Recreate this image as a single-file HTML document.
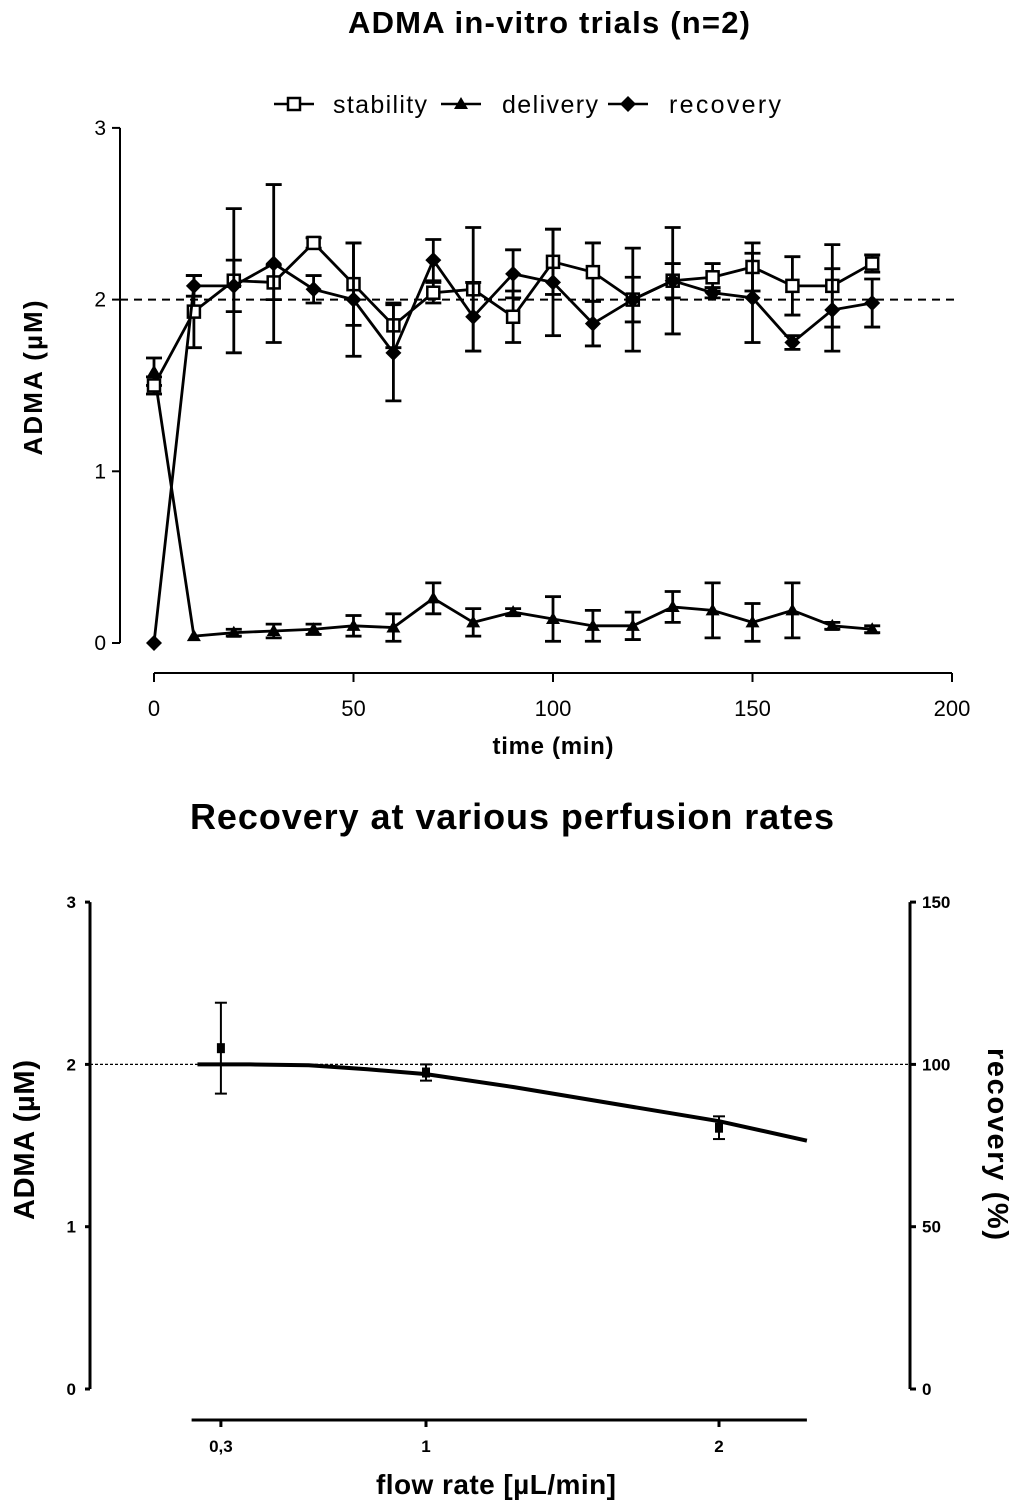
<!DOCTYPE html>
<html><head><meta charset="utf-8"><style>
body{margin:0;background:#fff;}
svg{display:block;font-family:"Liberation Sans",Arial,sans-serif;}
</style></head><body>
<svg id="c" width="1024" height="1512" viewBox="0 0 1024 1512"></svg>
<script>
// ---- top chart data ----
const times=[0,10,20,30,40,50,60,70,80,90,100,110,120,130,140,150,160,170,180];
const stability=[1.50,1.93,2.11,2.10,2.33,2.09,1.85,2.04,2.06,1.90,2.22,2.16,2.00,2.11,2.13,2.19,2.08,2.08,2.21];
const stabilityErr=[0.05,0.21,0.42,0.10,0.03,0.24,0.13,0.06,0.36,0.15,0.19,0.17,0.30,0.31,0.08,0.14,0.17,0.24,0.05];
const delivery=[1.58,0.04,0.06,0.07,0.08,0.10,0.09,0.26,0.12,0.18,0.14,0.10,0.10,0.21,0.19,0.12,0.19,0.10,0.08];
const deliveryErr=[0.08,0.01,0.02,0.04,0.03,0.06,0.08,0.09,0.08,0.02,0.13,0.09,0.08,0.09,0.16,0.11,0.16,0.02,0.02];
const recovery=[0.0,2.08,2.08,2.21,2.06,2.00,1.69,2.23,1.90,2.15,2.10,1.86,2.00,2.11,2.04,2.01,1.75,1.94,1.98];
const recoveryErr=[0.0,0.06,0.15,0.46,0.08,0.33,0.28,0.12,0.2,0.14,0.31,0.13,0.13,0.1,0.03,0.26,0.04,0.24,0.14];
const xTicks=[0,50,100,150,200];
const yTicks=[0,1,2,3];
// ---- bottom chart data ----
const flowPts=[0.3,1,2];
const flowVals=[2.10,1.95,1.61];
const flowErr=[0.28,0.05,0.07];
const fitX=[0.22,0.4,0.6,0.8,1.0,1.3,1.6,2.0,2.3];
const fitY=[2.0,2.0,1.995,1.97,1.94,1.86,1.77,1.65,1.53];
const flowTicks=[0.3,1,2];
const flowTickLabels=["0,3","1","2"];
const leftTicks=[0,1,2,3];
const rightTicks=[0,50,100,150];

const NS="http://www.w3.org/2000/svg";
const svg=document.getElementById('c');
function el(tag,attrs,parent){const e=document.createElementNS(NS,tag);for(const k in attrs)e.setAttribute(k,attrs[k]);(parent||svg).appendChild(e);return e;}
function txt(s,attrs,parent){const t=el('text',attrs,parent);t.textContent=s;return t;}

const tx=v=>154+v*3.99;
const ty=v=>643-v*171.7;

let g=el('g',{});


let t=txt('ADMA in-vitro trials (n=2)',{x:549,y:33,'text-anchor':'middle','font-size':31,'font-weight':'bold','textLength':402},g);

let a=el('line',{x1:120,y1:ty(3),x2:120,y2:ty(0),stroke:'#000','stroke-width':2},g);

yTicks.forEach(v=>{el('line',{x1:112,y1:ty(v),x2:120,y2:ty(v),stroke:'#000','stroke-width':2},g);
 let l=txt(String(v),{x:106,y:ty(v)+7,'text-anchor':'end','font-size':21},g);
 });
a=el('line',{x1:tx(0),y1:673,x2:tx(200),y2:673,stroke:'#000','stroke-width':2},g);

xTicks.forEach(v=>{el('line',{x1:tx(v),y1:673,x2:tx(v),y2:682,stroke:'#000','stroke-width':2},g);
 let l=txt(String(v),{x:tx(v),y:716,'text-anchor':'middle','font-size':22},g);
 });
t=txt('time (min)',{x:553,y:754,'text-anchor':'middle','font-size':24,'font-weight':'bold','textLength':121},g);

t=txt('ADMA (µM)',{x:0,y:0,'text-anchor':'middle','font-size':26,'font-weight':'bold','textLength':155,transform:'translate(42,378) rotate(-90)'},g);

let d=el('line',{x1:120,y1:ty(2),x2:958,y2:ty(2),stroke:'#000','stroke-width':2,'stroke-dasharray':'8,6'},g);


function marker(kind,x,y,parent){
 if(kind==='sq')return el('rect',{x:x-6,y:y-6,width:12,height:12,fill:'#fff',stroke:'#000','stroke-width':2.5},parent);
 if(kind==='tri')return el('polygon',{points:`${x},${y-7} ${x+7},${y+5} ${x-7},${y+5}`,fill:'#000'},parent);
 return el('polygon',{points:`${x},${y-8} ${x+8},${y} ${x},${y+8} ${x-8},${y}`,fill:'#000'},parent);
}
function series(name,vals,errs,kind){
 const sg=el('g',{},g);
 
 
 const pts=times.map((tm,i)=>tx(tm)+','+ty(vals[i])).join(' ');
 el('polyline',{points:pts,fill:'none',stroke:'#000','stroke-width':2.8},sg);
 times.forEach((tm,i)=>{const x=tx(tm);
  if(errs[i]>0.015){const y1=ty(vals[i]+errs[i]),y2=ty(vals[i]-errs[i]);
   el('line',{x1:x,y1:y1,x2:x,y2:y2,stroke:'#000','stroke-width':2.8},sg);
   el('line',{x1:x-8,y1:y1,x2:x+8,y2:y1,stroke:'#000','stroke-width':2.8},sg);
   el('line',{x1:x-8,y1:y2,x2:x+8,y2:y2,stroke:'#000','stroke-width':2.8},sg);}
  const m=marker(kind,x,ty(vals[i]),sg);
  
  
 });
}
series('delivery',delivery,deliveryErr,'tri');
series('stability',stability,stabilityErr,'sq');
series('recovery',recovery,recoveryErr,'dia');
const lg=el('g',{},g);


[['stability','sq',274,333,94],['delivery','tri',441,502,96],['recovery','dia',608,669,112]].forEach(([n,k,x0,xt,w])=>{
 const e=el('g',{},lg);
 
 
 el('line',{x1:x0,y1:104,x2:x0+40,y2:104,stroke:'#000','stroke-width':2.5},e);
 marker(k,x0+20,104,e);
 txt(n,{x:xt,y:113,'font-size':25,'textLength':w},e);
});

const bx=v=>426+(v-1)*293;
const by=v=>1389-v*162.3;
g=el('g',{});


t=txt('Recovery at various perfusion rates',{x:512,y:829,'text-anchor':'middle','font-size':36,'font-weight':'bold','textLength':644},g);

a=el('line',{x1:90,y1:by(3),x2:90,y2:by(0),stroke:'#000','stroke-width':3},g);

leftTicks.forEach(v=>{el('line',{x1:85,y1:by(v),x2:90,y2:by(v),stroke:'#000','stroke-width':3},g);
 let l=txt(String(v),{x:76,y:by(v)+6,'text-anchor':'end','font-size':17,'font-weight':'bold'},g);
 });
a=el('line',{x1:910,y1:by(3),x2:910,y2:by(0),stroke:'#000','stroke-width':3},g);

rightTicks.forEach(v=>{const y=by(v/50);el('line',{x1:910,y1:y,x2:916,y2:y,stroke:'#000','stroke-width':3},g);
 let l=txt(String(v),{x:922,y:y+6,'font-size':17,'font-weight':'bold'},g);
 });
a=el('line',{x1:bx(0.2),y1:1420,x2:bx(2.3),y2:1420,stroke:'#000','stroke-width':3},g);

flowTicks.forEach((v,i)=>{el('line',{x1:bx(v),y1:1420,x2:bx(v),y2:1427,stroke:'#000','stroke-width':3},g);
 let l=txt(flowTickLabels[i],{x:bx(v),y:1452,'text-anchor':'middle','font-size':17,'font-weight':'bold'},g);
 });
t=txt('flow rate [µL/min]',{x:496,y:1494,'text-anchor':'middle','font-size':28,'font-weight':'bold','textLength':240},g);

t=txt('ADMA (µM)',{x:0,y:0,'text-anchor':'middle','font-size':29,'font-weight':'bold','textLength':160,transform:'translate(34,1140) rotate(-90)'},g);

t=txt('recovery (%)',{x:0,y:0,'text-anchor':'middle','font-size':29,'font-weight':'bold','textLength':192,transform:'translate(988,1144) rotate(90)'},g);

d=el('line',{x1:90,y1:by(2),x2:910,y2:by(2),stroke:'#000','stroke-width':1.2,'stroke-dasharray':'3,2'},g);

let f=el('polyline',{points:fitX.map((x,i)=>bx(x)+','+by(fitY[i])).join(' '),fill:'none',stroke:'#000','stroke-width':4},g);

flowPts.forEach((v,i)=>{const x=bx(v),y1=by(flowVals[i]+flowErr[i]),y2=by(flowVals[i]-flowErr[i]);
 const pg=el('g',{},g);
 
 
 el('line',{x1:x,y1:y1,x2:x,y2:y2,stroke:'#000','stroke-width':2},pg);
 el('line',{x1:x-6,y1:y1,x2:x+6,y2:y1,stroke:'#000','stroke-width':2},pg);
 el('line',{x1:x-6,y1:y2,x2:x+6,y2:y2,stroke:'#000','stroke-width':2},pg);
 el('rect',{x:x-4,y:by(flowVals[i])-5,width:8,height:10,fill:'#000'},pg);
});
</script>
</body></html>
